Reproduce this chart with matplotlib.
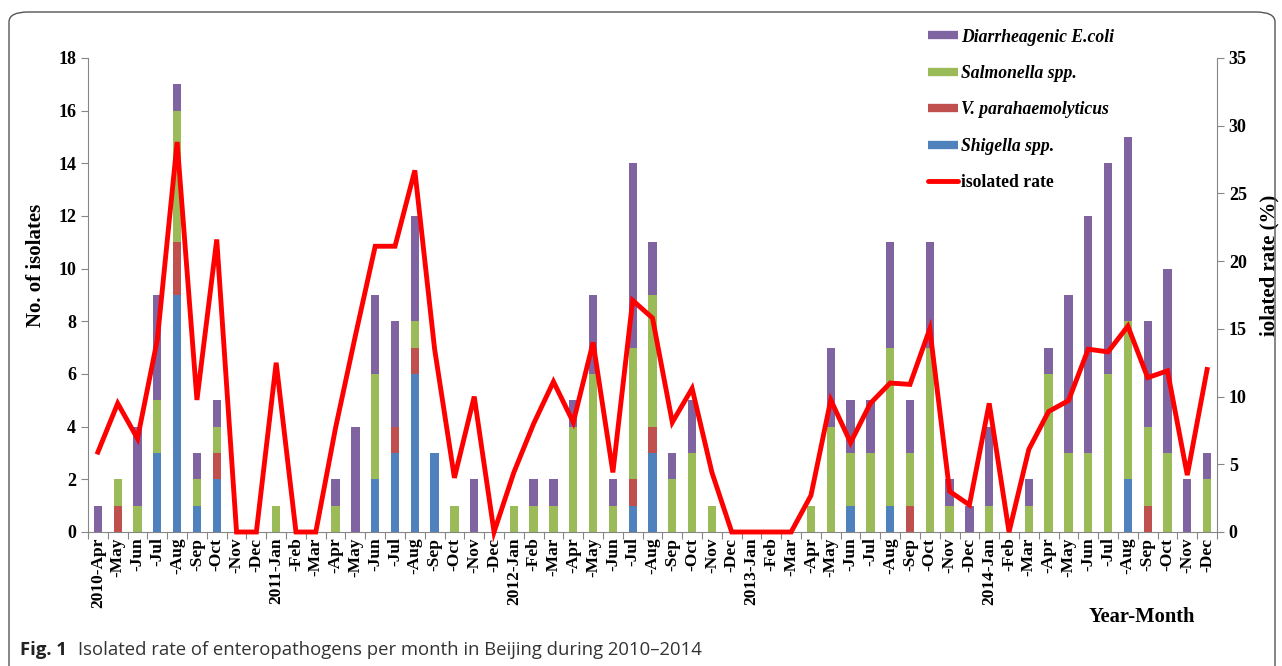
import numpy as np
import matplotlib
matplotlib.use("Agg")
import matplotlib.pyplot as plt
from matplotlib.lines import Line2D
from matplotlib.patches import FancyBboxPatch

plt.rcParams['font.family'] = ['Liberation Serif', 'DejaVu Serif']

months = ["2010-Apr", "-May", "-Jun", "-Jul", "-Aug", "-Sep", "-Oct", "-Nov", "-Dec",
          "2011-Jan", "-Feb", "-Mar", "-Apr", "-May", "-Jun", "-Jul", "-Aug", "-Sep", "-Oct", "-Nov", "-Dec",
          "2012-Jan", "-Feb", "-Mar", "-Apr", "-May", "-Jun", "-Jul", "-Aug", "-Sep", "-Oct", "-Nov", "-Dec",
          "2013-Jan", "-Feb", "-Mar", "-Apr", "-May", "-Jun", "-Jul", "-Aug", "-Sep", "-Oct", "-Nov", "-Dec",
          "2014-Jan", "-Feb", "-Mar", "-Apr", "-May", "-Jun", "-Jul", "-Aug", "-Sep", "-Oct", "-Nov", "-Dec"]

shigella = [0, 0, 0, 3, 9, 1, 2, 0, 0,
            0, 0, 0, 0, 0, 2, 3, 6, 3, 0, 0, 0,
            0, 0, 0, 0, 0, 0, 1, 3, 0, 0, 0, 0,
            0, 0, 0, 0, 0, 1, 0, 1, 0, 0, 0, 0,
            0, 0, 0, 0, 0, 0, 0, 2, 0, 0, 0, 0]
vpara = [0, 1, 0, 0, 2, 0, 1, 0, 0,
         0, 0, 0, 0, 0, 0, 1, 1, 0, 0, 0, 0,
         0, 0, 0, 0, 0, 0, 1, 1, 0, 0, 0, 0,
         0, 0, 0, 0, 0, 0, 0, 0, 1, 0, 0, 0,
         0, 0, 0, 0, 0, 0, 0, 0, 1, 0, 0, 0]
salmonella = [0, 1, 1, 2, 5, 1, 1, 0, 0,
              1, 0, 0, 1, 0, 4, 0, 1, 0, 1, 0, 0,
              1, 1, 1, 4, 6, 1, 5, 5, 2, 3, 1, 0,
              0, 0, 0, 1, 4, 2, 3, 6, 2, 7, 1, 0,
              1, 0, 1, 6, 3, 3, 6, 6, 3, 3, 0, 2]
ecoli = [1, 0, 3, 4, 1, 1, 1, 0, 0,
         0, 0, 0, 1, 4, 3, 4, 4, 0, 0, 2, 0,
         0, 1, 1, 1, 3, 1, 7, 2, 1, 2, 0, 0,
         0, 0, 0, 0, 3, 2, 2, 4, 2, 4, 1, 1,
         3, 0, 1, 1, 6, 9, 8, 7, 4, 7, 2, 1]
rate = [5.9, 9.5, 6.9, 14.2, 28.8, 9.75, 21.6, 0, 0,
        12.5, 0, 0, 7.7, 14.5, 21.1, 21.1, 26.7, 13.5, 4.0, 10.0, 0,
        4.4, 8.0, 11.1, 8.1, 14.0, 4.4, 17.1, 15.8, 8.1, 10.6, 4.4, 0,
        0, 0, 0, 2.7, 9.75, 6.6, 9.5, 11.0, 10.9, 15.0, 3.0, 2.0,
        9.5, 0, 6.1, 8.9, 9.7, 13.5, 13.3, 15.2, 11.4, 11.9, 4.2, 12.0]

c_blue, c_red, c_green, c_purple = "#4F81BD", "#C0504D", "#9BBB59", "#8064A2"
axis_grey = "#868686"

fig = plt.figure(figsize=(12.82, 6.66), dpi=100)
ax = fig.add_axes([88/1282, 134/666, 1129/1282, 474/666])
x = np.arange(len(months))
w = 0.42

b1 = np.array(shigella)
b2 = b1 + np.array(vpara)
b3 = b2 + np.array(salmonella)
ax.bar(x, shigella, w, color=c_blue, zorder=2)
ax.bar(x, vpara, w, bottom=b1, color=c_red, zorder=2)
ax.bar(x, salmonella, w, bottom=b2, color=c_green, zorder=2)
ax.bar(x, ecoli, w, bottom=b3, color=c_purple, zorder=2)

ax.set_xlim(-0.5, len(months) - 0.5)
ax.set_ylim(0, 18)
ax.set_yticks(range(0, 19, 2))
ax.set_xticks(np.arange(-0.5, len(months)), [""] * (len(months) + 1))
ax.set_xticks(x, months, minor=True, rotation=90, fontsize=12.5, fontweight="bold")
ax.tick_params(axis="x", which="minor", length=0, pad=4)
ax.tick_params(axis="x", which="major", length=5, color=axis_grey)
ax.tick_params(axis="y", length=5, color=axis_grey, labelsize=13)
for lab in ax.get_yticklabels():
    lab.set_fontweight("bold")
for s in ["top", "right"]:
    ax.spines[s].set_visible(False)
for s in ["left", "bottom"]:
    ax.spines[s].set_color(axis_grey)
ax.set_ylabel("No. of isolates", fontsize=15, fontweight="bold")
ax.yaxis.set_label_coords(-0.037, 0.563)

ax2 = ax.twinx()
ax2.plot(x, rate, color="#FF0000", lw=3.5, clip_on=False, zorder=5, solid_joinstyle="miter")
ax2.set_ylim(0, 35)
ax2.set_yticks(range(0, 36, 5))
ax2.tick_params(axis="y", length=5, color=axis_grey, labelsize=13)
for lab in ax2.get_yticklabels():
    lab.set_fontweight("bold")
for s in ["top", "left", "bottom"]:
    ax2.spines[s].set_visible(False)
ax2.spines["right"].set_color(axis_grey)
ax2.set_ylabel("iolated rate (%)", fontsize=15, fontweight="bold")
ax2.yaxis.set_label_coords(1.0375, 0.563)

handles = [Line2D([], [], color=c_purple, lw=6, solid_capstyle="butt"),
           Line2D([], [], color=c_green, lw=6, solid_capstyle="butt"),
           Line2D([], [], color=c_red, lw=6, solid_capstyle="butt"),
           Line2D([], [], color=c_blue, lw=6, solid_capstyle="butt"),
           Line2D([], [], color="#FF0000", lw=3.5, solid_capstyle="round")]
labels = ["Diarrheagenic E.coli", "Salmonella spp.", "V. parahaemolyticus", "Shigella spp.", "isolated rate"]
leg = fig.legend(handles, labels, loc="upper left", bbox_to_anchor=(0.724, 0.957),
                 frameon=False, fontsize=12.7, handlelength=1.7, handletextpad=0.15,
                 labelspacing=1.1, borderpad=0, borderaxespad=0)
for i, t in enumerate(leg.get_texts()):
    t.set_fontweight("bold")
    if i < 4:
        t.set_fontstyle("italic")

fig.text(1142/1282, 1 - 617/666, "Year-Month", fontsize=14.8, fontweight="bold",
         ha="center", va="center")

fig.text(20/1282, 1 - 650/666, "Fig. 1", fontsize=13.3, fontweight="bold",
         family="Open Sans", ha="left", va="center", color="#222222")
fig.text(78/1282, 1 - 650/666, "Isolated rate of enteropathogens per month in Beijing during 2010\u20132014",
         fontsize=13.3, family="Open Sans", ha="left", va="center", color="#333333")

border = FancyBboxPatch((9/1282, -20/666), 1266/1282, 674/666, transform=fig.transFigure,
                        boxstyle="round,pad=0,rounding_size=0.015", fill=False,
                        edgecolor="#555555", lw=1.0, clip_on=False)
fig.patches.append(border)

fig.savefig("out.png", dpi=100)
